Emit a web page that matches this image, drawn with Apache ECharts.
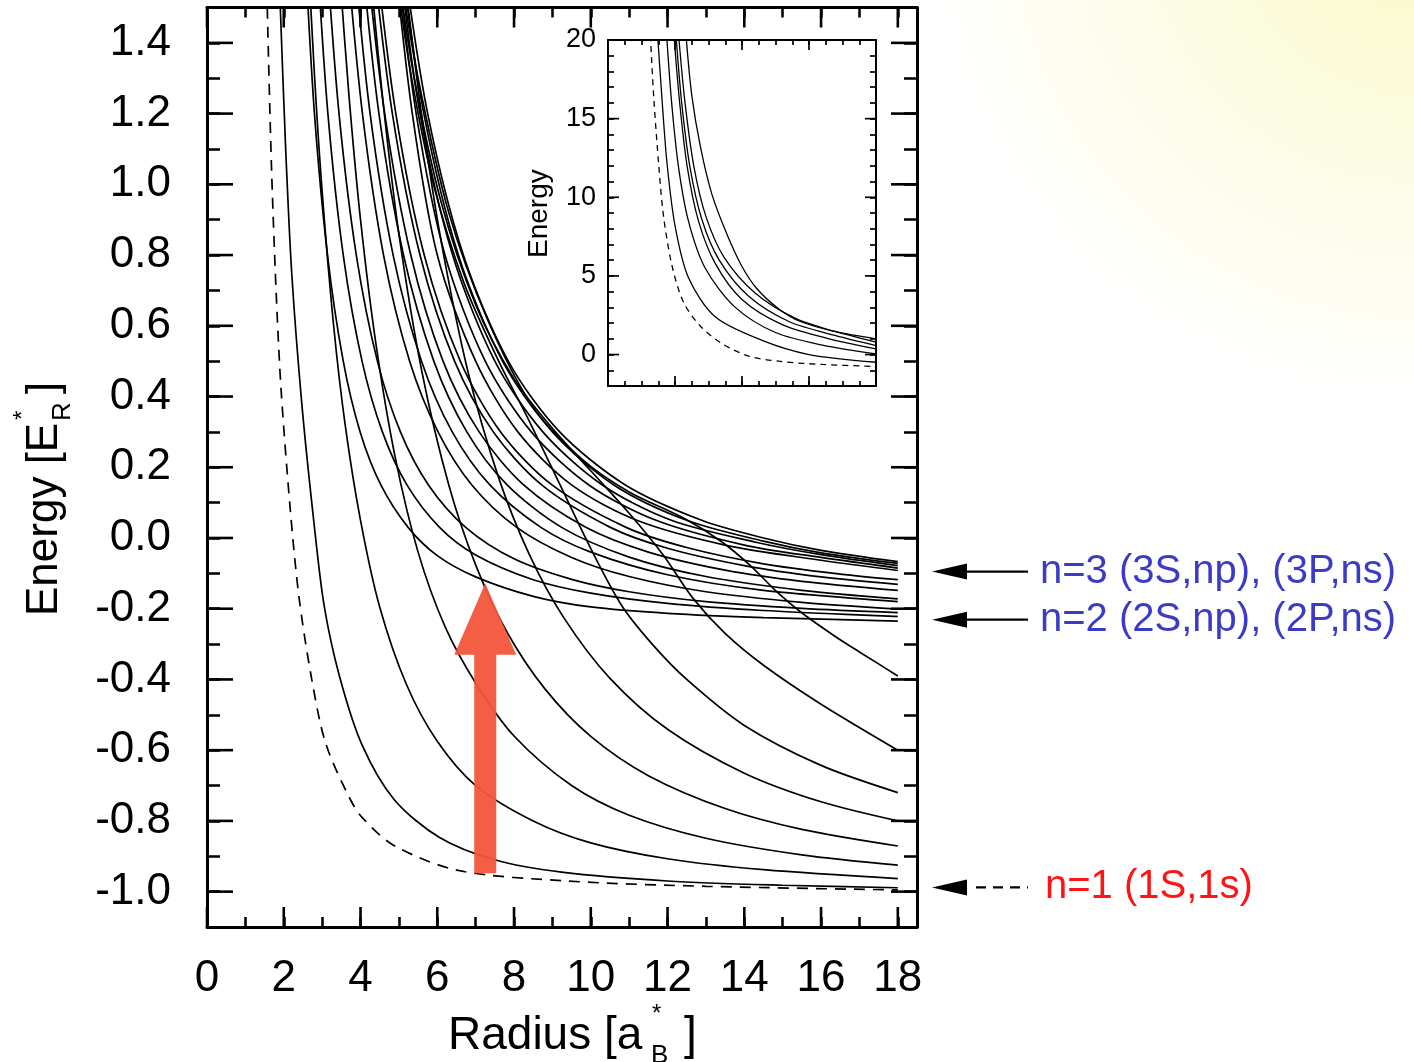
<!DOCTYPE html>
<html><head><meta charset="utf-8">
<script src="https://cdn.jsdelivr.net/npm/echarts@6/dist/echarts.min.js"></script>
<style>html,body{margin:0;padding:0;background:#fff}#c{width:1414px;height:1062px}</style>
</head><body><div id="c"></div>
<script>
// ---------- tick labels ----------
const radiusMajor = [0,2,4,6,8,10,12,14,16,18];
const energyMajor = [-1.0,-0.8,-0.6,-0.4,-0.2,0,0.2,0.4,0.6,0.8,1.0,1.2,1.4];
const insetRadiusMajor = [0,1,2,3,4];
const insetEnergyMajor = [0,5,10,15,20];

// ---------- main panel curves [radius, energy] ----------
const n1_1S1s = [[1.54,1.66],[1.57,1.5],[1.68,1.05],[1.80,0.70],[1.93,0.42],[2.17,0.08],[2.40,-0.17],[2.73,-0.40],[3.09,-0.58],[3.69,-0.73],[4.04,-0.79],[4.88,-0.87],[6.54,-0.94],[9.39,-0.97],[13,-0.985],[18,-0.995]];
const c1 = [[1.87,1.62],[1.91,1.5],[2.05,1.1],[2.21,0.745],[2.47,0.38],[2.78,0.05],[3.05,-0.19],[3.45,-0.39],[4.04,-0.585],[4.88,-0.74],[6.06,-0.847],[7.49,-0.91],[9.24,-0.945],[12,-0.97],[15,-0.982],[18,-0.989]];
const c2 = [[2.6,1.72],[2.8,1.31],[3.0,0.98],[3.3,0.60],[3.6,0.32],[4.0,0.05],[4.5,-0.195],[5.2,-0.415],[6.0,-0.575],[7.0,-0.70],[8.5,-0.80],[10,-0.862],[12,-0.907],[14.5,-0.938],[18,-0.963]];
const c3 = [[3.45,1.61],[3.7,1.25],[4.0,0.9],[4.4,0.55],[4.9,0.23],[5.5,-0.04],[6.2,-0.25],[7.0,-0.41],[8.0,-0.56],[9.5,-0.70],[11,-0.784],[13,-0.849],[15.5,-0.896],[18,-0.925]];
const c4 = [[4.25,1.61],[4.6,1.22],[5.0,0.86],[5.6,0.47],[6.3,0.15],[7.0,-0.076],[7.8,-0.263],[8.8,-0.426],[10,-0.561],[11.5,-0.672],[13.5,-0.765],[15.5,-0.824],[18,-0.871]];
const c5 = [[5.1,1.65],[5.2,1.54],[5.6,1.19],[6.1,0.84],[6.8,0.47],[7.6,0.17],[8.4,-0.047],[9.3,-0.226],[10.5,-0.397],[12,-0.541],[14,-0.665],[16,-0.746],[18,-0.80]];
const c6 = [[4.9,1.62],[5.3,1.32],[5.9,1.0],[6.7,0.72],[7.6,0.5],[8.4,0.33],[9.2,0.15],[10.0,-0.03],[10.8,-0.19],[11.6,-0.3],[12.5,-0.4],[14,-0.53],[16,-0.643],[18,-0.72]];
const c7 = [[4.95,1.62],[5.4,1.3],[6.1,0.95],[7.0,0.66],[8.0,0.45],[9.0,0.31],[10.0,0.19],[11.0,0.07],[11.9,-0.05],[12.66,-0.17],[13.5,-0.27],[14.5,-0.36],[16,-0.47],[18,-0.6]];
const c8 = [[5.0,1.62],[5.5,1.3],[6.3,0.92],[7.3,0.62],[8.5,0.37],[9.8,0.22],[11.0,0.13],[12.44,0.055],[13.4,-0.01],[14.18,-0.08],[14.78,-0.145],[15.48,-0.21],[16.35,-0.277],[17.04,-0.325],[18,-0.39]];
const n2a = [[2.56,1.65],[2.80,1.2],[3.14,0.8],[3.55,0.5],[3.99,0.3],[4.53,0.15],[5.24,0.03],[6,-0.05],[7,-0.11],[8.5,-0.165],[10,-0.195],[12,-0.213],[14.5,-0.225],[18,-0.235]];
const n2b = [[2.87,1.65],[3.15,1.2],[3.55,0.8],[4.04,0.5],[4.57,0.3],[5.21,0.15],[6.06,0.03],[7,-0.048],[8.5,-0.118],[10,-0.156],[12,-0.185],[14.5,-0.205],[18,-0.222]];
const n2c = [[3.12,1.65],[3.44,1.2],[3.89,0.8],[4.44,0.5],[5.04,0.3],[5.77,0.15],[6.74,0.03],[8,-0.059],[9.5,-0.117],[11,-0.152],[13,-0.18],[15.5,-0.199],[18,-0.211]];
const n2d = [[3.65,1.65],[4.05,1.2],[4.60,0.8],[5.28,0.5],[6.02,0.3],[6.9,0.15],[8.07,0.03],[9.5,-0.055],[11,-0.109],[13,-0.152],[15.5,-0.182],[18,-0.201]];
const m1 = [[3.83,1.65],[4.25,1.2],[4.85,0.8],[5.59,0.5],[6.39,0.3],[7.37,0.15],[8.70,0.03],[10,-0.04],[12,-0.104],[14.5,-0.148],[18,-0.18]];
const m2 = [[4.03,1.65],[4.48,1.2],[5.12,0.8],[5.91,0.5],[6.77,0.3],[7.82,0.15],[9.24,0.03],[11,-0.054],[13,-0.109],[15.5,-0.148],[18,-0.172]];
const m3 = [[4.15,1.65],[4.63,1.2],[5.31,0.8],[6.15,0.5],[7.09,0.3],[8.25,0.15],[9.87,0.03],[11.5,-0.04],[13.5,-0.091],[15.5,-0.1225],[18,-0.148]];
const m4 = [[4.32,1.65],[4.83,1.2],[5.55,0.8],[6.45,0.5],[7.46,0.3],[8.72,0.15],[10.51,0.03],[12,-0.029],[14,-0.078],[16,-0.11],[18,-0.131]];
const m5 = [[4.40,1.65],[4.92,1.2],[5.66,0.8],[6.60,0.5],[7.65,0.3],[8.99,0.15],[10.92,0.03],[12.5,-0.027],[14.5,-0.073],[16.5,-0.102],[18,-0.118]];
const n3a = [[4.88,1.65],[5.35,1.2],[6.0,0.8],[7.0,0.5],[8.1,0.3],[9.5,0.15],[11.2,0.05],[13.5,-0.02],[16,-0.063],[18,-0.092]];
const n3b = [[4.94,1.65],[5.45,1.2],[6.2,0.8],[7.25,0.5],[8.45,0.3],[9.95,0.15],[11.7,0.05],[14,-0.02],[16,-0.055],[18,-0.085]];
const n3c = [[4.99,1.65],[5.55,1.2],[6.4,0.8],[7.5,0.5],[8.75,0.3],[10.3,0.15],[12.1,0.05],[14.3,-0.012],[16,-0.047],[18,-0.078]];
const n3d = [[5.04,1.65],[5.65,1.2],[6.55,0.8],[7.7,0.5],[9.0,0.3],[10.6,0.15],[12.5,0.05],[14.5,-0.009],[16,-0.042],[18,-0.072]];
const n3e = [[5.10,1.65],[5.75,1.2],[6.68,0.8],[7.85,0.5],[9.19,0.3],[10.9,0.15],[12.89,0.05],[14.5,0.0],[16,-0.035],[18,-0.067]];

// ---------- inset curves ----------
const insetDashed = [[0.62,21],[0.635,20],[0.685,16.2],[0.76,11.9],[0.83,8.75],[0.96,5.56],[1.13,3.3],[1.38,1.8],[1.7,0.7],[2.1,-0.1],[2.6,-0.45],[3.2,-0.63],[4,-0.76]];
const insetC1 = [[0.73,21],[0.745,20],[0.81,16],[0.88,12.2],[1.0,8.2],[1.2,4.9],[1.6,2.4],[2.3,0.9],[3.0,0.0],[4,-0.49]];
const insetC2 = [[0.87,21],[0.88,20],[0.95,16],[1.05,12],[1.2,8.5],[1.45,5.5],[1.9,3.0],[2.5,1.4],[3.2,0.6],[4,0.04]];
const insetN2a = [[0.98,21],[0.99,20],[1.07,16],[1.18,12],[1.35,8.5],[1.6,5.8],[2.0,3.5],[2.6,1.9],[3.3,1.0],[4,0.36]];
const insetN2b = [[1.01,21],[1.02,20],[1.1,16],[1.22,12],[1.4,8.6],[1.66,6.0],[2.1,3.7],[2.7,2.1],[3.4,1.2],[4,0.57]];
const insetN2c = [[1.05,21],[1.06,20],[1.15,16],[1.28,12],[1.46,8.8],[1.73,6.2],[2.2,3.9],[2.8,2.3],[3.4,1.45],[4,0.79]];
const insetC3 = [[1.16,21],[1.17,20],[1.25,16.5],[1.38,13.2],[1.55,10.2],[1.78,7.6],[2.0,5.6],[2.22,4.2],[2.55,2.9],[2.87,2.1],[3.4,1.45],[4,1.0]];

// ---------- annotations ----------
const levelNames = ['n=3 (3S,np), (3P,ns)', 'n=2 (2S,np), (2P,ns)', 'n=1 (1S,1s)'];
const levelEnergies = [-0.095, -0.231, -0.988];
const levelColors = ['#3b3bc8', '#3b3bc8', '#ff1414'];
const levelDashed = [false, false, true];
const pumpRadius = 7.25;
const pumpEnergies = [-0.948, -0.33, -0.128]; // tail, head base, tip

const FONT = '"Liberation Sans", Arial, Helvetica, sans-serif';
const chart = echarts.init(document.getElementById('c'), null, {renderer: 'canvas'});

const G = {left: 207, top: 7.5, right: 917, bottom: 927};
const GI = {left: 608, top: 40, right: 876, bottom: 386};

function lineSeries(name, data, xi, yi, dashed, width) {
  return {
    name, type: 'line', data, xAxisIndex: xi, yAxisIndex: yi,
    showSymbol: false, symbol: 'none', smooth: 0.3,
    lineStyle: {color: '#000', width: width || 1.7, type: dashed ? [11, 8] : 'solid'},
    silent: true, animation: false, z: 3
  };
}
const mainCurves = {c1, c2, c3, c4, c5, c6, c7, c8, n2a, n2b, n2c, n2d, m1, m2, m3, m4, m5, n3a, n3b, n3c, n3d, n3e};
const series = [lineSeries('1S,1s', n1_1S1s, 0, 0, true)];
Object.keys(mainCurves).forEach(k => series.push(lineSeries(k, mainCurves[k], 0, 0, false)));
series.push(lineSeries('inset 1S,1s', insetDashed, 2, 2, true, 1.3));
[insetC1, insetC2, insetN2a, insetN2b, insetN2c, insetC3].forEach((d, i) => series.push(lineSeries('inset' + i, d, 2, 2, false, 1.3)));
series[series.length - 7].lineStyle.type = [6, 5];

function ax(grid, pos, min, max, interval, len, showLabel, fmt, fs, margin, lw) {
  return {
    type: 'value', gridIndex: grid, position: pos, min, max, interval,
    axisLine: {show: true, onZero: false, lineStyle: {color: '#000', width: lw}},
    axisTick: {show: true, inside: true, length: len, lineStyle: {color: '#000', width: lw * 0.85}},
    axisLabel: {show: showLabel, formatter: fmt, fontSize: fs, fontFamily: FONT, color: '#000', margin, showMinLabel: true, showMaxLabel: true},
    splitLine: {show: false}, minorTick: {show: false}
  };
}
const evenFmt = v => (Math.abs(v - Math.round(v)) < 1e-6 && Math.round(v) % 2 === 0) ? String(Math.round(v)) : '';
const eFmt = v => { const k = Math.round(v * 10); return (k % 2 === 0 && k >= -10 && k <= 14) ? (k / 10).toFixed(1) : ''; };
const iFmt = v => { const k = Math.round(v); return (k % 5 === 0 && k >= 0 && k <= 20) ? String(k) : ''; };

const option = {
  backgroundColor: 'transparent',
  animation: false,
  grid: [
    {left: G.left, top: G.top, width: G.right - G.left, height: G.bottom - G.top, show: true, backgroundColor: '#fff', borderWidth: 0},
    {left: GI.left, top: GI.top, width: GI.right - GI.left, height: GI.bottom - GI.top, show: true, backgroundColor: '#fff', borderWidth: 0}
  ],
  xAxis: [
    ax(0, 'bottom', 0, 18.5, 1, 10, true, evenFmt, 44, 30, 3),
    ax(0, 'top', 0, 18.5, 1, 10, false, evenFmt, 44, 30, 3),
    ax(1, 'bottom', 0, 4, 0.25, 5, false, evenFmt, 28, 10, 2),
    ax(1, 'top', 0, 4, 0.25, 5, false, evenFmt, 28, 10, 2)
  ],
  yAxis: [
    ax(0, 'left', -1.1, 1.5, 0.1, 13, true, eFmt, 44, 36, 3),
    ax(0, 'right', -1.1, 1.5, 0.1, 13, false, eFmt, 44, 36, 3),
    ax(1, 'left', -2, 20, 1, 6, true, iFmt, 27, 12, 2),
    ax(1, 'right', -2, 20, 1, 6, false, iFmt, 27, 12, 2)
  ],
  series
};
chart.setOption(option);

// ---------- overlays positioned through the axes ----------
const P = (xi, yi, x, y) => chart.convertToPixel({xAxisIndex: xi, yAxisIndex: yi}, [x, y]);
const els = [];
const bg = new echarts.graphic.RadialGradient(1.0, -0.08, 0.46, [
  {offset: 0, color: '#f9f9c8'}, {offset: 0.5, color: '#fcfce4'}, {offset: 1, color: '#ffffff'}
]);
els.push({type: 'rect', z: -100, silent: true, shape: {x: 0, y: 0, width: 1414, height: 1062}, style: {fill: bg}});
function ln(x1, y1, x2, y2, w, dash) {
  return {type: 'line', silent: true, z: 50, shape: {x1, y1, x2, y2}, style: {stroke: '#000', lineWidth: w, lineDash: dash || null}};
}
energyMajor.forEach(v => { const y = P(0, 0, 0, v)[1]; els.push(ln(G.left, y, G.left + 26, y, 2.6)); els.push(ln(G.right - 26, y, G.right, y, 2.6)); });
radiusMajor.forEach(v => { const x = P(0, 0, v, 0)[0]; els.push(ln(x, G.bottom, x, G.bottom - 20, 2.6)); els.push(ln(x, G.top, x, G.top + 20, 2.6)); });
insetEnergyMajor.forEach(v => { const y = P(2, 2, 0, v)[1]; els.push(ln(GI.left, y, GI.left + 11, y, 1.7)); els.push(ln(GI.right - 11, y, GI.right, y, 1.7)); });
insetRadiusMajor.forEach(v => { const x = P(2, 2, v, 0)[0]; els.push(ln(x, GI.bottom, x, GI.bottom - 10, 1.7)); els.push(ln(x, GI.top, x, GI.top + 10, 1.7)); });

// level arrows and labels
levelNames.forEach((t, i) => {
  const y = P(0, 0, 0, levelEnergies[i])[1];
  const tip = G.right + 15;
  els.push({type: 'polygon', silent: true, z: 50, shape: {points: [[tip, y], [tip + 35, y - 8], [tip + 35, y + 8]]}, style: {fill: '#000'}});
  if (levelDashed[i]) els.push(ln(tip + 44, y, tip + 96, y, 2.4, [10, 7]));
  else els.push(ln(tip + 30, y, tip + 96, y, 2.4));
  els.push({type: 'text', silent: true, z: 50, x: levelDashed[i] ? 1045 : 1040, y: y,
    style: {text: t, font: '40px ' + FONT, fill: levelColors[i], align: 'left', textAlign: 'left', verticalAlign: 'middle', textVerticalAlign: 'middle'}});
});

// red pump arrow
(function () {
  const tail = P(0, 0, pumpRadius, pumpEnergies[0]);
  const base = P(0, 0, pumpRadius, pumpEnergies[1]);
  const tip = P(0, 0, pumpRadius, pumpEnergies[2]);
  const x = tail[0];
  els.push({type: 'polygon', silent: true, z: 40, shape: {points: [
    [x - 11, tail[1]], [x + 11, tail[1]], [x + 11, base[1]], [x + 31, base[1]], [x, tip[1]], [x - 31, base[1]], [x - 11, base[1]]
  ]}, style: {fill: '#f3553a', opacity: 0.95}});
})();

// axis titles
function txt(t, x, y, size) {
  return {type: 'text', silent: true, z: 50, x, y, style: {text: t, font: size + 'px ' + FONT, fill: '#000',
    align: 'left', textAlign: 'left', verticalAlign: 'middle', textVerticalAlign: 'middle'}};
}
els.push({type: 'group', x: 448, y: 1036, silent: true, children: [
  txt('Radius [a', 0, 0, 46), txt('*', 204, -22, 24), txt('B', 203, 20, 26), txt(']', 236, 0, 46)
]});
els.push({type: 'group', x: 45, y: 616, rotation: Math.PI / 2, silent: true, children: [
  txt('Energy [E', 0, 0, 44), txt('*', 196, -22, 24), txt('R', 195, 18, 26), txt(']', 222, 0, 44)
]});
els.push({type: 'group', x: 539, y: 258, rotation: Math.PI / 2, silent: true, children: [
  txt('Energy', 0, 0, 28)
]});

chart.setOption({graphic: {elements: els}});
</script></body></html>
